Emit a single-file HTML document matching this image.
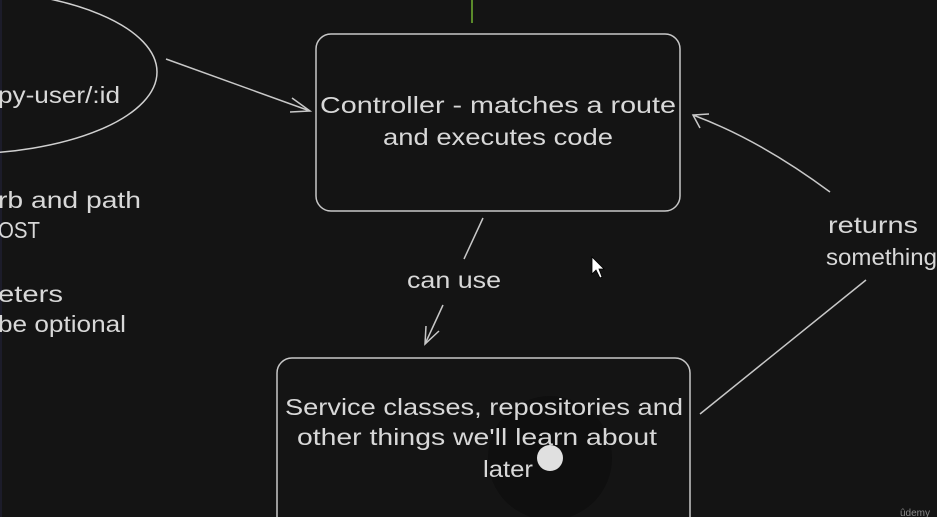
<!DOCTYPE html>
<html><head><style>
html,body{margin:0;padding:0;background:#141414;}
svg{display:block}
text{font-family:"Liberation Sans",sans-serif;fill:#d8d8d8;font-size:23px;}
</style></head><body>
<svg width="937" height="517" viewBox="0 0 937 517" xmlns="http://www.w3.org/2000/svg">
<rect width="937" height="517" fill="#141414"/>
<rect x="0" y="0" width="2" height="517" fill="#1c1c2a"/>
<line x1="472" y1="0" x2="472" y2="23" stroke="#5a8a2a" stroke-width="2"/>
<circle cx="550" cy="458" r="62" fill="#0f0f0f"/>
<ellipse cx="-40" cy="72" rx="197" ry="82" fill="none" stroke="#d0d0d0" stroke-width="1.5"/>
<text x="-2" y="103" textLength="122" lengthAdjust="spacingAndGlyphs">py-user/:id</text>
<text x="-2" y="208" textLength="143" lengthAdjust="spacingAndGlyphs">rb and path</text>
<text x="-2" y="238" textLength="42" lengthAdjust="spacingAndGlyphs">OST</text>
<text x="-2" y="302" textLength="65" lengthAdjust="spacingAndGlyphs">eters</text>
<text x="-2" y="332" textLength="128" lengthAdjust="spacingAndGlyphs">be optional</text>
<g stroke="#c8c8c8" stroke-width="1.5" fill="none">
<line x1="166" y1="59" x2="310" y2="111"/>
<polyline points="292,98 310,111 290,112"/>
<rect x="316" y="34" width="364" height="177" rx="15"/>
<rect x="277" y="358" width="413" height="175" rx="15"/>
<line x1="483" y1="218" x2="464" y2="259"/>
<line x1="443" y1="305" x2="425" y2="344"/>
<polyline points="426,326 425,344 439,331"/>
<line x1="700" y1="414" x2="866" y2="280"/>
<path d="M830,192 Q760,140 693,115"/>
<polyline points="700,128 693,115 709,114"/>
</g>
<text x="320" y="113" textLength="356" lengthAdjust="spacingAndGlyphs">Controller - matches a route</text>
<text x="383" y="145" textLength="230" lengthAdjust="spacingAndGlyphs">and executes code</text>
<text x="407" y="288" textLength="94" lengthAdjust="spacingAndGlyphs">can use</text>
<text x="828" y="233" textLength="90" lengthAdjust="spacingAndGlyphs">returns</text>
<text x="826" y="265" textLength="111" lengthAdjust="spacingAndGlyphs">something</text>
<text x="285" y="415" textLength="398" lengthAdjust="spacingAndGlyphs">Service classes, repositories and</text>
<text x="297" y="445" textLength="360" lengthAdjust="spacingAndGlyphs">other things we'll learn about</text>
<text x="483" y="477" textLength="50" lengthAdjust="spacingAndGlyphs">later</text>
<circle cx="550" cy="458" r="13" fill="#e0e0e0"/>
<path d="M592,257 L592,274 L596,270 L600,278 L602,277 L599,269 L604,269 Z" fill="#fff" stroke="#000" stroke-width="0.8"/>
<text x="900" y="516" style="font-size:10px;fill:#888">ûdemy</text>
</svg>
</body></html>
